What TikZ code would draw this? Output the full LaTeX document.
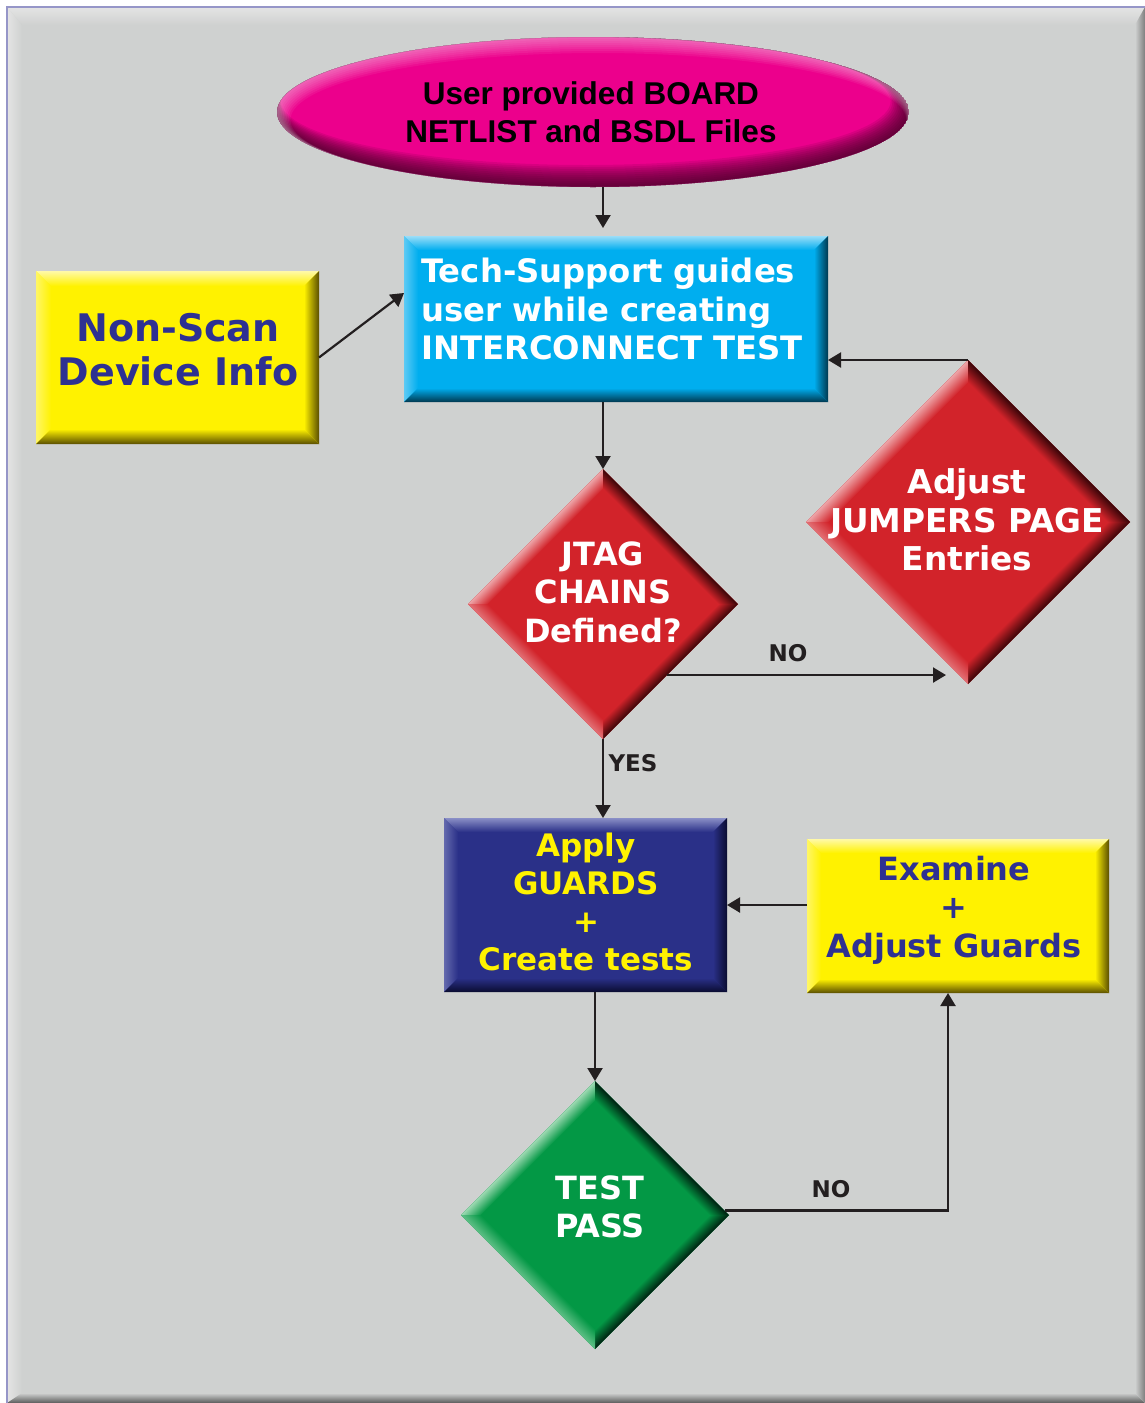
\documentclass[tikz,border=0pt]{standalone}
\usepackage{fontspec}
\setmainfont{DejaVu Sans}
\newfontfamily\ellfont{Liberation Sans}
\usetikzlibrary{shapes.geometric,arrows.meta,calc}

\definecolor{panel}{HTML}{CFD1D0}
\definecolor{panelL}{HTML}{E4E4E4}
\definecolor{panelD}{HTML}{5A5A5A}
\definecolor{arrowc}{HTML}{231F20}
\definecolor{magbase}{HTML}{EC008C}
\definecolor{magdark}{HTML}{3A0020}
\definecolor{cyanbase}{HTML}{00AEEF}
\definecolor{cyanL}{HTML}{9ADDF8}
\definecolor{cyanD}{HTML}{00384F}
\definecolor{yelbase}{HTML}{FFF200}
\definecolor{yelL}{HTML}{FFF9A8}
\definecolor{yelD}{HTML}{5A4E00}
\definecolor{navybase}{HTML}{2A3088}
\definecolor{navyL}{HTML}{8A8FC6}
\definecolor{navyD}{HTML}{0A0C30}
\definecolor{redbase}{HTML}{D2232A}
\definecolor{redL}{HTML}{EDA3A6}
\definecolor{redD}{HTML}{3A0508}
\definecolor{grnbase}{HTML}{039845}
\definecolor{grnL}{HTML}{9AD8B0}
\definecolor{grnD}{HTML}{002010}
\definecolor{darkblue}{HTML}{2E3192}
\definecolor{txtyel}{HTML}{FFF200}

% x1 y1 x2 y2 base light dark width  (pixel coordinates, y down)
\newcommand{\bevelrect}[8]{%
  \fill[#5] (#1,#2) rectangle (#3,#4);
  \shade[top color=#6, bottom color=#5] (#1,#2) -- (#3,#2) -- (#3-#8,#2+#8) -- (#1+#8,#2+#8) -- cycle;
  \shade[left color=#6!60!#5, right color=#5] (#1,#2) -- (#1+#8,#2+#8) -- (#1+#8,#4-#8) -- (#1,#4) -- cycle;
  \shade[top color=#5, bottom color=#7] (#1,#4) -- (#1+#8,#4-#8) -- (#3-#8,#4-#8) -- (#3,#4) -- cycle;
  \shade[left color=#5, right color=#7] (#3,#2) -- (#3,#4) -- (#3-#8,#4-#8) -- (#3-#8,#2+#8) -- cycle;
}
% cx cy halfdiag base light dark width
\newcommand{\beveldia}[7]{%
  \pgfmathsetmacro{\bvA}{#3*0.70711}%
  \begin{scope}[transform canvas={shift={(#1pt,-#2pt)},rotate=45}]
  \begin{scope}[x=1pt,y=1pt]
    \fill[#4] (-\bvA,-\bvA) rectangle (\bvA,\bvA);
    \shade[top color=#5, bottom color=#4] (-\bvA,\bvA) -- (\bvA,\bvA) -- (\bvA-#7,\bvA-#7) -- (-\bvA+#7,\bvA-#7) -- cycle;
    \shade[left color=#4, right color=#6] (\bvA,\bvA) -- (\bvA,-\bvA) -- (\bvA-#7,-\bvA+#7) -- (\bvA-#7,\bvA-#7) -- cycle;
    \shade[top color=#4, bottom color=#6] (-\bvA,-\bvA) -- (\bvA,-\bvA) -- (\bvA-#7,-\bvA+#7) -- (-\bvA+#7,-\bvA+#7) -- cycle;
    \shade[left color=#5!60!#4, right color=#4] (-\bvA,\bvA) -- (-\bvA,-\bvA) -- (-\bvA+#7,-\bvA+#7) -- (-\bvA+#7,\bvA-#7) -- cycle;
  \end{scope}
  \end{scope}}

\begin{document}
\begin{tikzpicture}[x=1pt,y=-1pt,
  txt/.style={font=\bfseries\fontsize{31}{38.5}\selectfont, align=center, inner sep=0},
  dtxt/.style={font=\bfseries\fontsize{32}{38.5}\selectfont, align=center, inner sep=0, text=white},
  lbl/.style={font=\bfseries\fontsize{23}{26}\selectfont, text=arrowc, inner sep=0},
  boxn/.style={rectangle, draw=none, inner sep=0, outer sep=0},
  dian/.style={diamond, draw=none, inner sep=0, outer sep=0},
  arr/.style={draw=arrowc, line width=2.2pt, -{Triangle[length=13pt,width=15pt]}},
  ln/.style={draw=arrowc, line width=2.2pt}]
\useasboundingbox (0,0) rectangle (1145,1403);
% panel
\fill[white] (0,0) rectangle (1145,1403);
\fill[panel] (7,7) rectangle (1145,1403);
\shade[top color=panelL, bottom color=panel] (7,7) -- (1145,7) -- (1135,25) -- (22,25) -- cycle;
\shade[left color=panelL, right color=panel] (7,7) -- (22,25) -- (22,1393) -- (7,1403) -- cycle;
\shade[top color=panel, bottom color=panelD] (7,1403) -- (22,1393) -- (1135,1393) -- (1145,1403) -- cycle;
\shade[left color=panel, right color=panelD!70!panel] (1145,7) -- (1145,1403) -- (1135,1393) -- (1135,25) -- cycle;
\draw[color={rgb,255:red,150;green,150;blue,200}, line width=1.2pt] (7,1403) -- (7,7) -- (1145,7);

% ellipse
\begin{scope}
  \clip (593,112) ellipse [x radius=316, y radius=75];
  \fill[magbase] (593,112) ellipse [x radius=316, y radius=75];
  \foreach \t in {2,4,...,22} {
    \fill[magdark, opacity=0.11, even odd rule] (593,112) ellipse [x radius=316, y radius=75]
      (593-\t/3,112-\t/2) ellipse [x radius=316-\t/2, y radius=75-\t/2];
  }
  \foreach \t in {2,4,...,16} {
    \fill[white, opacity=0.06, even odd rule] (593,112) ellipse [x radius=316, y radius=75]
      (593+\t/3,112+\t/2) ellipse [x radius=316-\t/2, y radius=75-\t/2];
  }
\end{scope}
\node[ellipse, draw=none, inner sep=0, outer sep=0, minimum width=632, minimum height=150] (ell) at (593,112) {};
\node[font=\ellfont\bfseries\fontsize{31.5}{38}\selectfont, align=center, inner sep=0, text=black] (elltxt) at (591,112) {User provided BOARD\\NETLIST and BSDL Files};

% tech support box
\bevelrect{404}{236}{828}{402}{cyanbase}{cyanL}{cyanD}{14}
\node[boxn, minimum width=424, minimum height=166] (tech) at (616,319) {};
\node[txt, font=\bfseries\fontsize{32.3}{38.5}\selectfont, align=left, text=white, anchor=west] (techtxt) at (421,309) {Tech-Support guides\\user while creating\\INTERCONNECT TEST};

% non-scan box
\bevelrect{36}{271}{319}{444}{yelbase}{yelL}{yelD}{15}
\node[boxn, minimum width=283, minimum height=173] (ns) at (177.5,357.5) {};
\node[txt, font=\bfseries\fontsize{38}{44}\selectfont, text=darkblue] (nstxt) at (178,350) {Non-Scan\\Device Info};

% JTAG diamond
\beveldia{603}{604}{135}{redbase}{redL}{redD}{14}
\node[dian, minimum width=270, minimum height=270] (jtag) at (603,604) {};
\node[dtxt] (jtagtxt) at (603,592) {JTAG\\CHAINS\\Defined?};

% Adjust diamond
\beveldia{968}{522}{162}{redbase}{redL}{redD}{16}
\node[dian, minimum width=324, minimum height=324] (adj) at (968,522) {};
\node[dtxt, font=\bfseries\fontsize{32.8}{38.5}\selectfont] (adjtxt) at (967,520) {Adjust\\JUMPERS PAGE\\Entries};

% Apply box
\bevelrect{444}{818}{727}{992}{navybase}{navyL}{navyD}{14}
\node[boxn, minimum width=283, minimum height=174] (apply) at (585.5,905) {};
\node[txt, text=txtyel, font=\bfseries\fontsize{31}{38}\selectfont] (applytxt) at (586,902) {Apply\\GUARDS\\+\\Create tests};

% Examine box
\bevelrect{807}{839}{1109}{993}{yelbase}{yelL}{yelD}{14}
\node[boxn, minimum width=302, minimum height=154] (exam) at (958,916) {};
\node[txt, font=\bfseries\fontsize{32}{38.5}\selectfont, text=darkblue] (examtxt) at (954,910) {Examine\\+\\Adjust Guards};

% Test diamond
\beveldia{595}{1215}{134}{grnbase}{grnL}{grnD}{14}
\node[dian, minimum width=268, minimum height=268] (test) at (595,1215) {};
\node[dtxt] (testtxt) at (600,1207) {TEST\\PASS};

% connectors
\draw[arr, shorten >=8pt] (ell.south -| jtag.north) -- (tech.north -| jtag.north);
\draw[arr] (ns.east) -- (tech.173);
\draw[arr] (tech.south -| jtag.north) -- (jtag.north);
\draw[arr] (adj.north) -- (adj.north -| tech.east);
\draw[arr, shorten >=22pt] (jtag.-48) -- (jtag.-48 -| adj.center);
\draw[arr] (jtag.south) -- (apply.north -| jtag.south);
\draw[arr] (exam.west |- apply.east) -- (apply.east);
\draw[arr] (apply.south -| test.north) -- (test.north);
\draw[arr] (test.2) -| ([xshift=-10pt]exam.south);

% labels
\node[lbl] (no1) at (788,653) {NO};
\node[lbl] (yes) at (633,763) {YES};
\node[lbl] (no2) at (831,1189) {NO};
\end{tikzpicture}
\end{document}
